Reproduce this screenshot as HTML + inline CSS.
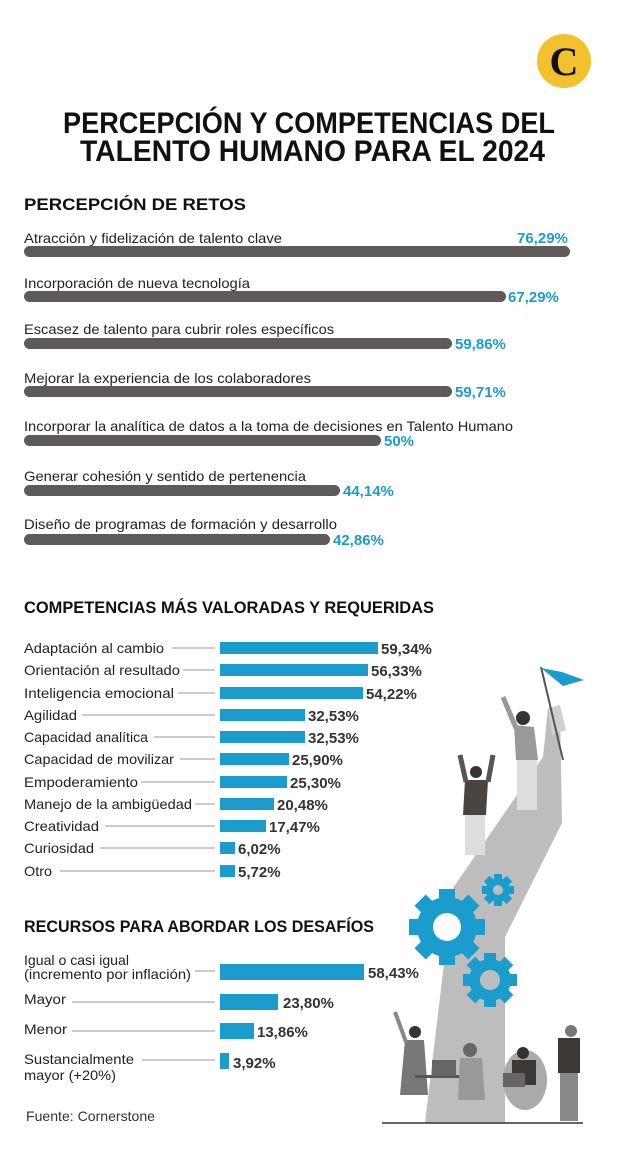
<!DOCTYPE html>
<html><head><meta charset="utf-8"><style>
html,body{margin:0;padding:0;background:#fff;}
svg{display:block;font-family:"Liberation Sans",sans-serif;}
.h{font-weight:bold;fill:#111;}
.l{fill:#222;font-size:14px;}
.vb{fill:#1a9ccc;font-weight:bold;font-size:15px;}
.vd{fill:#333;font-weight:bold;font-size:15px;}
</style></head><body>
<svg width="620" height="1161" viewBox="0 0 620 1161" xmlns="http://www.w3.org/2000/svg">
<rect width="620" height="1161" fill="#fff"/>
<!-- logo -->
<circle cx="564" cy="61" r="27" fill="#f2c12e"/>
<text x="564" y="75" text-anchor="middle" font-family="Liberation Serif,serif" font-weight="bold" font-size="40" fill="#111">C</text>
<!-- title -->
<text x="63" y="133" class="h" font-size="30" textLength="492" lengthAdjust="spacingAndGlyphs">PERCEPCIÓN Y COMPETENCIAS DEL</text>
<text x="80" y="161" class="h" font-size="30" textLength="465" lengthAdjust="spacingAndGlyphs">TALENTO HUMANO PARA EL 2024</text>

<!-- section 1 -->
<text x="24" y="210" class="h" font-size="17" textLength="222" lengthAdjust="spacingAndGlyphs">PERCEPCIÓN DE RETOS</text>
<g fill="#5e5a58">
<rect x="24" y="246" width="546" height="11" rx="5.5"/>
<rect x="24" y="291" width="482" height="11" rx="5.5"/>
<rect x="24" y="338" width="428" height="11" rx="5.5"/>
<rect x="24" y="386" width="428" height="11" rx="5.5"/>
<rect x="24" y="435" width="357" height="11" rx="5.5"/>
<rect x="24" y="485" width="316" height="11" rx="5.5"/>
<rect x="24" y="534" width="306" height="11" rx="5.5"/>
</g>
<g class="l">
<text x="24" y="243" textLength="258" lengthAdjust="spacingAndGlyphs">Atracción y fidelización de talento clave</text>
<text x="24" y="288" textLength="226" lengthAdjust="spacingAndGlyphs">Incorporación de nueva tecnología</text>
<text x="24" y="334" textLength="310" lengthAdjust="spacingAndGlyphs">Escasez de talento para cubrir roles específicos</text>
<text x="24" y="383" textLength="287" lengthAdjust="spacingAndGlyphs">Mejorar la experiencia de los colaboradores</text>
<text x="24" y="431" textLength="489" lengthAdjust="spacingAndGlyphs">Incorporar la analítica de datos a la toma de decisiones en Talento Humano</text>
<text x="24" y="481" textLength="282" lengthAdjust="spacingAndGlyphs">Generar cohesión y sentido de pertenencia</text>
<text x="24" y="529" textLength="313" lengthAdjust="spacingAndGlyphs">Diseño de programas de formación y desarrollo</text>
</g>
<g class="vb">
<text x="517" y="243">76,29%</text>
<text x="508" y="302">67,29%</text>
<text x="455" y="349">59,86%</text>
<text x="455" y="397">59,71%</text>
<text x="384" y="446">50%</text>
<text x="343" y="496">44,14%</text>
<text x="333" y="545">42,86%</text>
</g>

<!-- illustration -->
<g>
<polygon points="425,1123 505,1123 505,937 562,823 560,712 548,708 543,757 453,888" fill="#bdbdbd"/>
<polygon points="548,708 560,705 566,730 552,735" fill="#d0d0d0"/>
<line x1="541" y1="667" x2="563" y2="760" stroke="#555" stroke-width="2"/>
<polygon points="541,668 562,672 584,680 563,686" fill="#1a9ccc"/>
<!-- gears -->
<g fill="#1a9ccc">
<circle cx="447" cy="927" r="30"/>
<g transform="translate(447,927)">
<rect x="-8" y="-38" width="16" height="76"/><rect x="-8" y="-38" width="16" height="76" transform="rotate(45)"/>
<rect x="-8" y="-38" width="16" height="76" transform="rotate(90)"/><rect x="-8" y="-38" width="16" height="76" transform="rotate(135)"/></g>
<circle cx="490" cy="980" r="21"/>
<g transform="translate(490,980)">
<rect x="-6" y="-27" width="12" height="54"/><rect x="-6" y="-27" width="12" height="54" transform="rotate(45)"/>
<rect x="-6" y="-27" width="12" height="54" transform="rotate(90)"/><rect x="-6" y="-27" width="12" height="54" transform="rotate(135)"/></g>
<circle cx="498" cy="890" r="12"/>
<g transform="translate(498,890)">
<rect x="-4" y="-16" width="8" height="32"/><rect x="-4" y="-16" width="8" height="32" transform="rotate(45)"/>
<rect x="-4" y="-16" width="8" height="32" transform="rotate(90)"/><rect x="-4" y="-16" width="8" height="32" transform="rotate(135)"/></g>
</g>
<circle cx="447" cy="927" r="14" fill="#fff"/>
<circle cx="490" cy="980" r="10" fill="#bdbdbd"/>
<circle cx="498" cy="890" r="5" fill="#bdbdbd"/>
<!-- people top -->
<g fill="#6d6a68">
<circle cx="523" cy="718" r="7" fill="#333"/>
<polygon points="514,725 534,727 538,760 516,760" fill="#999"/>
<rect x="517" y="760" width="20" height="50" fill="#ddd"/>
<line x1="516" y1="728" x2="503" y2="697" stroke="#999" stroke-width="5"/>
<circle cx="476" cy="772" r="6" fill="#333"/>
<polygon points="465,780 488,780 486,815 463,815" fill="#4a4340"/>
<rect x="465" y="815" width="20" height="40" fill="#ddd"/>
<line x1="466" y1="782" x2="460" y2="755" stroke="#555" stroke-width="5"/>
<line x1="488" y1="782" x2="493" y2="755" stroke="#555" stroke-width="5"/>
</g>
<!-- people bottom -->
<g>
<circle cx="415" cy="1032" r="6" fill="#333"/>
<polygon points="405,1040 424,1040 428,1095 400,1095" fill="#777"/>
<line x1="406" y1="1042" x2="395" y2="1012" stroke="#888" stroke-width="4"/>
<rect x="415" y="1075" width="55" height="3" fill="#555"/>
<rect x="432" y="1060" width="24" height="16" fill="#666"/>
<circle cx="470" cy="1050" r="7" fill="#666"/>
<polygon points="460,1058 482,1058 485,1100 458,1100" fill="#999"/>
<ellipse cx="525" cy="1080" rx="22" ry="30" fill="#aaa"/>
<circle cx="523" cy="1053" r="6" fill="#333"/>
<rect x="512" y="1060" width="24" height="25" fill="#3c3835"/>
<rect x="503" y="1073" width="22" height="14" fill="#666"/>
<circle cx="571" cy="1031" r="6" fill="#777"/>
<rect x="558" y="1038" width="22" height="35" fill="#3c3835"/>
<rect x="560" y="1073" width="18" height="48" fill="#888"/>
</g>
<line x1="382" y1="1123" x2="583" y2="1123" stroke="#333" stroke-width="1.5"/>
</g>

<!-- section 2 -->
<text x="24" y="613" class="h" font-size="17" textLength="410" lengthAdjust="spacingAndGlyphs">COMPETENCIAS MÁS VALORADAS Y REQUERIDAS</text>
<g stroke="#999" stroke-width="1">
<line x1="172" y1="648" x2="215" y2="648"/>
<line x1="183" y1="670" x2="215" y2="670"/>
<line x1="178" y1="693" x2="215" y2="693"/>
<line x1="82" y1="715" x2="215" y2="715"/>
<line x1="154" y1="737" x2="215" y2="737"/>
<line x1="180" y1="759" x2="215" y2="759"/>
<line x1="141" y1="782" x2="215" y2="782"/>
<line x1="195" y1="804" x2="215" y2="804"/>
<line x1="105" y1="826" x2="215" y2="826"/>
<line x1="100" y1="848" x2="215" y2="848"/>
<line x1="60" y1="871" x2="215" y2="871"/>
</g>
<g fill="#1a9ccc">
<rect x="220" y="642" width="158" height="12"/>
<rect x="220" y="664" width="148" height="12"/>
<rect x="220" y="687" width="143" height="12"/>
<rect x="220" y="709" width="85" height="12"/>
<rect x="220" y="731" width="85" height="12"/>
<rect x="220" y="753" width="69" height="12"/>
<rect x="220" y="776" width="67" height="12"/>
<rect x="220" y="798" width="54" height="12"/>
<rect x="220" y="820" width="46" height="12"/>
<rect x="220" y="842" width="15" height="12"/>
<rect x="220" y="865" width="15" height="12"/>
</g>
<g class="l">
<text x="24" y="653" textLength="140" lengthAdjust="spacingAndGlyphs">Adaptación al cambio</text>
<text x="24" y="675" textLength="156" lengthAdjust="spacingAndGlyphs">Orientación al resultado</text>
<text x="24" y="698" textLength="150" lengthAdjust="spacingAndGlyphs">Inteligencia emocional</text>
<text x="24" y="720" textLength="53" lengthAdjust="spacingAndGlyphs">Agilidad</text>
<text x="24" y="742" textLength="124" lengthAdjust="spacingAndGlyphs">Capacidad analítica</text>
<text x="24" y="764" textLength="150" lengthAdjust="spacingAndGlyphs">Capacidad de movilizar</text>
<text x="24" y="787" textLength="114" lengthAdjust="spacingAndGlyphs">Empoderamiento</text>
<text x="24" y="809" textLength="168" lengthAdjust="spacingAndGlyphs">Manejo de la ambigüedad</text>
<text x="24" y="831" textLength="75" lengthAdjust="spacingAndGlyphs">Creatividad</text>
<text x="24" y="853" textLength="70" lengthAdjust="spacingAndGlyphs">Curiosidad</text>
<text x="24" y="876" textLength="28" lengthAdjust="spacingAndGlyphs">Otro</text>
</g>
<g class="vd">
<text x="381" y="654">59,34%</text>
<text x="371" y="676">56,33%</text>
<text x="366" y="699">54,22%</text>
<text x="308" y="721">32,53%</text>
<text x="308" y="743">32,53%</text>
<text x="292" y="765">25,90%</text>
<text x="290" y="788">25,30%</text>
<text x="277" y="810">20,48%</text>
<text x="269" y="832">17,47%</text>
<text x="238" y="854">6,02%</text>
<text x="238" y="877">5,72%</text>
</g>

<!-- section 3 -->
<text x="24" y="932" class="h" font-size="17" textLength="350" lengthAdjust="spacingAndGlyphs">RECURSOS PARA ABORDAR LOS DESAFÍOS</text>
<g stroke="#999" stroke-width="1">
<line x1="195" y1="971" x2="215" y2="971"/>
<line x1="72" y1="1002" x2="215" y2="1002"/>
<line x1="72" y1="1031" x2="215" y2="1031"/>
<line x1="142" y1="1060" x2="215" y2="1060"/>
</g>
<g fill="#1a9ccc">
<rect x="220" y="964" width="144" height="16"/>
<rect x="220" y="994" width="58" height="16"/>
<rect x="220" y="1023" width="34" height="16"/>
<rect x="220" y="1053" width="9" height="16"/>
</g>
<g class="l">
<text x="24" y="965" textLength="105" lengthAdjust="spacingAndGlyphs">Igual o casi igual</text>
<text x="24" y="979" textLength="167" lengthAdjust="spacingAndGlyphs">(incremento por inflación)</text>
<text x="24" y="1004" textLength="42" lengthAdjust="spacingAndGlyphs">Mayor</text>
<text x="24" y="1034" textLength="43" lengthAdjust="spacingAndGlyphs">Menor</text>
<text x="24" y="1064" textLength="110" lengthAdjust="spacingAndGlyphs">Sustancialmente</text>
<text x="24" y="1080" textLength="92" lengthAdjust="spacingAndGlyphs">mayor (+20%)</text>
</g>
<g class="vd">
<text x="368" y="978">58,43%</text>
<text x="283" y="1008">23,80%</text>
<text x="257" y="1037">13,86%</text>
<text x="233" y="1068">3,92%</text>
</g>
<text x="26" y="1121" fill="#333" font-size="14" textLength="129" lengthAdjust="spacingAndGlyphs">Fuente: Cornerstone</text>
</svg>
</body></html>
